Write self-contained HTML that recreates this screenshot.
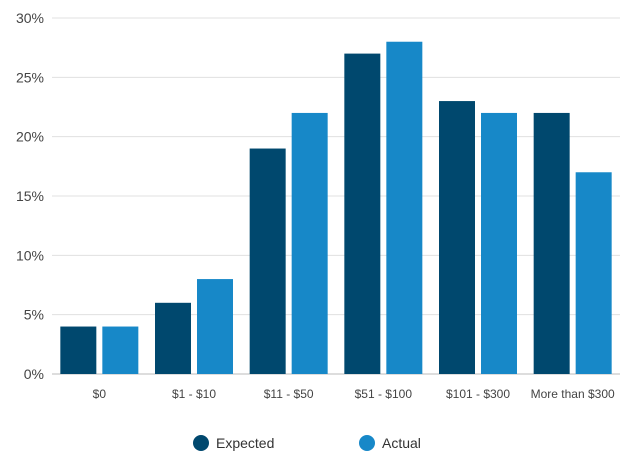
<!DOCTYPE html>
<html><head><meta charset="utf-8"><style>
body{margin:0;background:#fff;font-family:"Liberation Sans",sans-serif}
svg text{font-family:"Liberation Sans",sans-serif}
</style></head><body>
<svg id="chart" width="642" height="464">
<g id="grid"></g><g id="bars"></g><g id="xlabels"></g>
<g>
<circle cx="201" cy="443" r="8" fill="#00486e"/>
<text x="216" y="448" font-size="14" fill="#333">Expected</text>
<circle cx="367" cy="443" r="8" fill="#1788c8"/>
<text x="382" y="448" font-size="14" fill="#333">Actual</text>
</g>
</svg>
<script>
const categories=["$0","$1 - $10","$11 - $50","$51 - $100","$101 - $300","More than $300"];
const expected=[4,6,19,27,23,22];
const actual=[4,8,22,28,22,17];
const ticks=[0,5,10,15,20,25,30];
const NS="http://www.w3.org/2000/svg";
const x0=52,x1=620,yTop=18,yBot=374,maxV=30;
const y=v=>yBot-(v/maxV)*(yBot-yTop);
const step=(x1-x0)/categories.length;
const cx=i=>x0+step*(i+0.5);
function mk(tag,attrs,parent){const e=document.createElementNS(NS,tag);for(const k in attrs)e.setAttribute(k,attrs[k]);parent.appendChild(e);return e;}
const grid=document.getElementById('grid'),bars=document.getElementById('bars'),xl=document.getElementById('xlabels');
ticks.forEach(t=>{
 const l=mk('line',{x1:x0,x2:x1,y1:y(t),y2:y(t),stroke:t===0?'#bbb':'#e0e0e0','stroke-width':1},grid);
 
 
 const tx=mk('text',{x:44,y:y(t)+5,'text-anchor':'end','font-size':14,fill:'#444'},grid);
 tx.textContent=t+'%';
 
 
});
const bw=36,gap=6;
categories.forEach((c,i)=>{
 const b1=mk('rect',{x:cx(i)-gap/2-bw,y:y(expected[i]),width:bw,height:yBot-y(expected[i]),fill:'#00486e'},bars);
 
 
 const b2=mk('rect',{x:cx(i)+gap/2,y:y(actual[i]),width:bw,height:yBot-y(actual[i]),fill:'#1788c8'},bars);
 
 
 const t=mk('text',{x:cx(i),y:398,'text-anchor':'middle','font-size':12,fill:'#444'},xl);
 t.textContent=c;
 
 
});
</script>
</body></html>
